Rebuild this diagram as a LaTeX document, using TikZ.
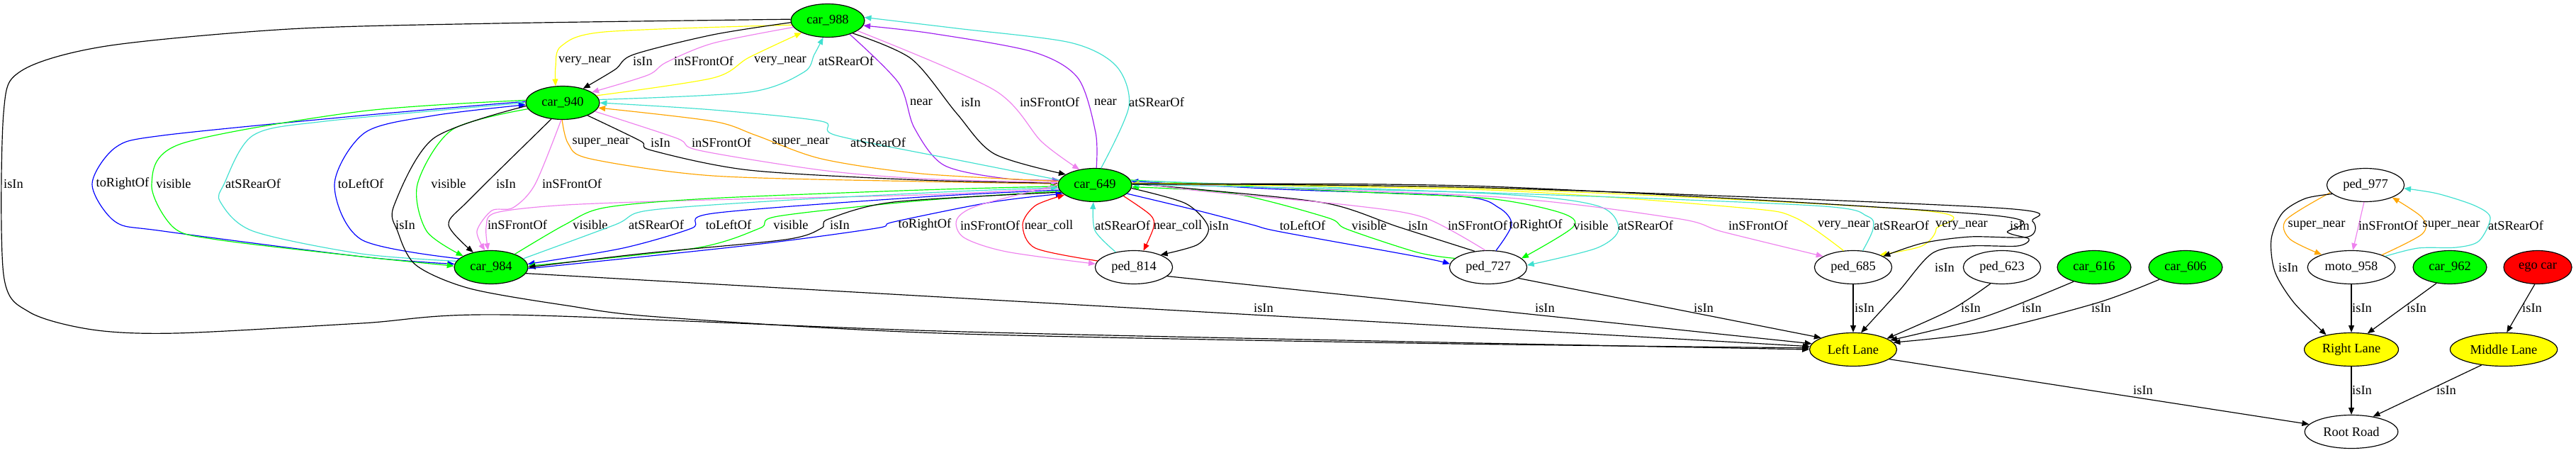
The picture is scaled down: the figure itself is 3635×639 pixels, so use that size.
\documentclass[tikz,border=0pt]{standalone}
\usepackage{fontspec}
\setmainfont{Liberation Serif}
\usepackage{xcolor}
\usetikzlibrary{arrows.meta, shapes.geometric}
\definecolor{gvgreen}{HTML}{00FF00}
\definecolor{gvyellow}{HTML}{FFFF00}
\definecolor{gvred}{HTML}{FF0000}
\definecolor{gvblue}{HTML}{0000FF}
\definecolor{gvturq}{HTML}{40E0D0}
\definecolor{gvviolet}{HTML}{EE82EE}
\definecolor{gvpurple}{HTML}{A020F0}
\definecolor{gvorange}{HTML}{FFA500}

\begin{document}
\begin{tikzpicture}[
  x=0.76pt, y=-0.76pt,
  font=\fontsize{14}{16}\selectfont,
  obj/.style={ellipse, draw, line width=0.9pt, inner sep=0pt, minimum height=35.7pt, minimum width=#1},
  obj/.default=83pt,
  car/.style={obj=79pt, fill=gvgreen},
  lane/.style={obj=#1, fill=gvyellow},
  rel/.style={->, line width=0.9pt},
  lbl/.style={inner sep=1pt, text=black},
  >={Triangle[length=7.5pt, width=6pt]}
]
\useasboundingbox (0,0) rectangle (3635,639);

\node[car] (c988) at (1168,29) {car\_988};
\node[car] (c940) at (794,145) {car\_940};
\node[car] (c649) at (1545,261) {car\_649};
\node[car] (c984) at (693,377) {car\_984};
\node[obj] (p814) at (1600,377) {ped\_814};
\node[obj] (p727) at (2100,377) {ped\_727};
\node[obj] (p685) at (2615,377) {ped\_685};
\node[obj] (p623) at (2825,377) {ped\_623};
\node[car] (c616) at (2955,377) {car\_616};
\node[car] (c606) at (3084,377) {car\_606};
\node[obj] (p977) at (3338,261) {ped\_977};
\node[obj=94pt] (m958) at (3318,377) {moto\_958};
\node[car] (c962) at (3457,377) {car\_962};
\node[obj=73pt, fill=gvred] (ego) at (3581,377) {ego car};
\node[lane=93.5pt] (lleft) at (2615,493) {Left Lane};
\node[lane=101pt] (lright) at (3318,493) {Right Lane};
\node[lane=115pt] (lmid) at (3533,493) {Middle Lane};
\node[obj=100pt] (road) at (3318,609) {Root Road};

% car_988 and car_940
\draw[rel, gvyellow] plot[smooth] coordinates {(c988.187) (853,45) (792,65) (784,94) (c940.113)} node[lbl] at (825,86) {very\_near};
\draw[rel] plot[smooth] coordinates {(c988.183) (1006,49) (894,77) (868,98) (c940.35)} node[lbl] at (907,86) {isIn};
\draw[rel, gvviolet] plot[smooth] coordinates {(c988.191) (1006,61) (940,88) (914,106) (c940.20)} node[lbl] at (993,86) {inSFrontOf};
\draw[rel, gvyellow] plot[smooth] coordinates {(c940.12) (1006,110) (1057,81) (c988.205)} node[lbl] at (1101,86) {very\_near};
\draw[rel, gvturq] plot[smooth] coordinates {(c940.5) (1057,130) (1134,102) (1149,77) (c988.255)} node[lbl] at (1194,86) {atSRearOf};

% car_988 and car_649
\draw[rel, gvpurple] plot[smooth] coordinates {(c988.328) (1268,117) (1290,180) (1332,233) (1420,252) (c649.172)} node[lbl] at (1300,144) {near};
\draw[rel] plot[smooth] coordinates {(c988.333) (1286,83) (1350,160) (1403,217) (c649.160)} node[lbl] at (1370,144) {isIn};
\draw[rel, gvviolet] plot[smooth] coordinates {(c988.341) (1403,127) (1470,200) (c649.135)} node[lbl] at (1481,144) {inSFrontOf};
\draw[rel, gvpurple] plot[smooth] coordinates {(c649.85) (1546,187) (1521,110) (1457,73) (1314,47) (c988.352)} node[lbl] at (1560,144) {near};
\draw[rel, gvturq] plot[smooth] coordinates {(c649.70) (1593,150) (1575,93) (1510,60) (1350,40) (c988.5)} node[lbl] at (1632,144) {atSRearOf};

% car_940 and car_649
\draw[rel, gvorange] plot[smooth] coordinates {(c940.268) (802,203) (833,224) (1006,248) (1300,256) (c649.178)} node[lbl] at (848,201) {super\_near};
\draw[rel] plot[smooth] coordinates {(c940.333) (904,199) (919,212) (1057,240) (1300,254) (c649.177)} node[lbl] at (932,201) {isIn};
\draw[rel, gvviolet] plot[smooth] coordinates {(c940.345) (955,195) (986,212) (1159,240) (1300,252) (c649.176)} node[lbl] at (1018,201) {inSFrontOf};
\draw[rel, gvorange] plot[smooth] coordinates {(c649.174) (1300,245) (1159,224) (1067,191) (1006,171) (c940.352)} node[lbl] at (1130,201) {super\_near};
\draw[rel, gvturq] plot[smooth] coordinates {(c649.172) (1363,228) (1180,191) (1159,171) (1006,155) (c940.0)} node[lbl] at (1239,201) {atSRearOf};

% car_940 and car_984
\draw[rel, gvblue] plot[smooth] coordinates {(c940.178) (510,163) (230,191) (163,208) (130,260) (163,313) (230,326) (510,362) (c984.175)} node[lbl] at (173,259) {toRightOf};
\draw[rel, gvgreen] plot[smooth] coordinates {(c940.176) (510,157) (255,203) (214,260) (245,321) (306,338) (510,362) (c984.178)} node[lbl] at (245,259) {visible};
\draw[rel, gvturq] plot[smooth] coordinates {(c984.170) (510,358) (357,326) (311,285) (316,260) (357,191) (459,171) (c940.180)} node[lbl] at (357,259) {atSRearOf};
\draw[rel, gvblue] plot[smooth] coordinates {(c984.165) (510,338) (472,260) (515,187) (612,163) (c940.183)} node[lbl] at (509,259) {toLeftOf};
\draw[rel, gvgreen] plot[smooth] coordinates {(c940.190) (638,183) (589,260) (602,326) (c984.158)} node[lbl] at (633,259) {visible};
\draw[rel] plot[smooth] coordinates {(c940.235) (663,281) (633,317) (c984.140)} node[lbl] at (714,259) {isIn};
\draw[rel, gvviolet] plot[smooth] coordinates {(c940.265) (755,260) (724,293) (694,297) (673,326) (c984.110)} node[lbl] at (807,259) {inSFrontOf};

% car_649 and car_984
\draw[rel, gvviolet] plot[smooth] coordinates {(c649.185) (1300,275) (1000,282) (800,289) (700,300) (686,320) (c984.100)} node[lbl] at (730,317) {inSFrontOf};
\draw[rel, gvgreen] plot[smooth] coordinates {(c984.29) (797,317) (853,293) (1000,280) (1300,268) (c649.182)} node[lbl] at (833,317) {visible};
\draw[rel, gvturq] plot[smooth] coordinates {(c984.15) (868,317) (914,297) (1100,283) (1350,270) (c649.184)} node[lbl] at (926,317) {atSRearOf};
\draw[rel, gvblue] plot[smooth] coordinates {(c649.188) (1300,278) (1006,301) (976,322) (879,350) (c984.5)} node[lbl] at (1028,317) {toLeftOf};
\draw[rel, gvgreen] plot[smooth] coordinates {(c649.190) (1300,283) (1098,305) (1072,322) (981,350) (c984.2)} node[lbl] at (1116,317) {visible};
\draw[rel] plot[smooth] coordinates {(c649.192) (1261,285) (1169,309) (1159,322) (1108,338) (904,358) (c984.0)} node[lbl] at (1185,317) {isIn};
\draw[rel, gvblue] plot[smooth] coordinates {(c984.358) (1057,346) (1236,322) (1261,313) (1400,285) (c649.195)} node[lbl] at (1305,317) {toRightOf};

% car_649 and ped_814
\draw[rel, gvviolet] plot[smooth] coordinates {(c649.180) (1380,290) (1350,310) (1360,335) (1420,355) (p814.175)} node[lbl] at (1397,318) {inSFrontOf};
\draw[rel, gvred] plot[smooth] coordinates {(p814.170) (1461,350) (1443,317) (1461,290) (c649.198)} node[lbl] at (1480,318) {near\_coll};
\draw[rel, gvturq] plot[smooth] coordinates {(p814.140) (1545,325) (c649.265)} node[lbl] at (1584,318) {atSRearOf};
\draw[rel, gvred] plot[smooth] coordinates {(c649.339) (1623,303) (1628,320) (p814.60)} node[lbl] at (1662,318) {near\_coll};
\draw[rel] plot[smooth] coordinates {(c649.355) (1673,287) (1705,320) (1690,345) (p814.25)} node[lbl] at (1720,318) {isIn};

% car_649 and ped_727
\draw[rel, gvblue] plot[smooth] coordinates {(c649.345) (1690,297) (1767,317) (1807,327) (2000,362) (p727.175)} node[lbl] at (1838,318) {toLeftOf};
\draw[rel, gvgreen] plot[smooth] coordinates {(p727.165) (2000,356) (1900,323) (1873,307) (1740,273) (c649.357)} node[lbl] at (1932,318) {visible};
\draw[rel] plot[smooth] coordinates {(p727.130) (1973,320) (1873,287) (1700,268) (c649.2)} node[lbl] at (2001,318) {isIn};
\draw[rel, gvviolet] plot[smooth] coordinates {(p727.100) (2010,307) (1909,290) (1700,270) (c649.4)} node[lbl] at (2085,318) {inSFrontOf};
\draw[rel, gvblue] plot[smooth] coordinates {(p727.65) (2133,317) (2115,293) (2061,277) (1807,267) (c649.6)} node[lbl] at (2167,318) {toRightOf};
\draw[rel, gvgreen] plot[smooth] coordinates {(c649.8) (1900,270) (2100,280) (2202,300) (2220,320) (p727.15)} node[lbl] at (2245,318) {visible};
\draw[rel, gvturq] plot[smooth] coordinates {(c649.7) (2100,273) (2253,290) (2284,323) (2253,350) (p727.3)} node[lbl] at (2322,318) {atSRearOf};

% car_649 and ped_685
\draw[rel, gvviolet] plot[smooth] coordinates {(c649.3) (2100,277) (2365,308) (2431,327) (p685.160)} node[lbl] at (2481,318) {inSFrontOf};
\draw[rel, gvyellow] plot[smooth] coordinates {(p685.120) (2533,307) (2457,293) (2100,268) (c649.2)} node[lbl] at (2602,318) {very\_near};
\draw[rel, gvturq] plot[smooth] coordinates {(p685.60) (2643,323) (2635,305) (2559,290) (2100,272) (c649.1)} node[lbl] at (2683,318) {atSRearOf};
\draw[rel, gvyellow] plot[smooth] coordinates {(c649.3) (2100,266) (2712,297) (2732,323) (2712,347) (p685.25)} node[lbl] at (2768,318) {very\_near};
\draw[rel] plot[smooth] coordinates {(c649.2) (2100,265) (2814,293) (2868,312) (2862,334) (2780,334) (2713,343) (p685.20)} node[lbl] at (2850,318) {isIn};
\draw[rel] plot[smooth] coordinates {(c649.1) (2100,263) (2804,303) (2833,328) (2863,337) (2847,347) (2780,347) (2727,357) (2680,410) (lleft.65)} node[lbl] at (2744,377) {isIn};

% into Left Lane
\draw[rel] plot[smooth] coordinates {(c988.178) (700,33) (408,41) (150,65) (30,100) (5,160) (5,387) (41,440) (130,465) (249,470) (510,456) (714,444) (1326,467) (1990,482) (lleft.180)} node[lbl] at (19,259) {isIn};
\draw[rel] plot[smooth] coordinates {(c940.185) (612,195) (556,290) (561,326) (587,374) (663,407) (800,431) (928,447) (1326,470) (1990,484) (lleft.178)} node[lbl] at (572,317) {isIn};
\draw[rel] (c984.350) -- (lleft.176) node[lbl] at (1783,434) {isIn};
\draw[rel] (p814.345) -- (lleft.172) node[lbl] at (2180,434) {isIn};
\draw[rel] (p727.340) -- (lleft.160) node[lbl] at (2404,434) {isIn};
\draw[rel] (p685.south) -- (lleft.north) node[lbl] at (2631,434) {isIn};
\draw[rel] plot[smooth] coordinates {(p623.235) (2753,437) (lleft.18)} node[lbl] at (2781,434) {isIn};
\draw[rel] plot[smooth] coordinates {(c616.215) (2800,447) (lleft.14)} node[lbl] at (2867,434) {isIn};
\draw[rel] plot[smooth] coordinates {(c606.205) (2960,427) (2800,468) (lleft.10)} node[lbl] at (2965,434) {isIn};
\draw[rel] (lleft.345) -- (road.170) node[lbl] at (3024,550) {isIn};

% right group
\draw[rel, gvorange] plot[smooth] coordinates {(p977.192) (3226,310) (3231,337) (m958.157)} node[lbl] at (3269,318) {super\_near};
\draw[rel, gvviolet] (p977.265) -- (m958.85) node[lbl] at (3370,318) {inSFrontOf};
\draw[rel, gvorange] plot[smooth] coordinates {(m958.22) (3418,330) (3418,307) (p977.335)} node[lbl] at (3459,318) {super\_near};
\draw[rel, gvturq] plot[smooth] coordinates {(m958.18) (3412,350) (3466,349) (3498,340) (3514,307) (3492,290) (3439,273) (p977.355)} node[lbl] at (3550,318) {atSRearOf};
\draw[rel] plot[smooth] coordinates {(p977.195) (3253,280) (3221,300) (3205,337) (3210,383) (3237,427) (lright.150)} node[lbl] at (3229,377) {isIn};
\draw[rel] (m958) -- (lright) node[lbl] at (3333,434) {isIn};
\draw[rel] (c962.230) -- (lright.45) node[lbl] at (3410,434) {isIn};
\draw[rel] (ego.260) -- (lmid.80) node[lbl] at (3573,434) {isIn};
\draw[rel] (lright) -- (road) node[lbl] at (3333,550) {isIn};
\draw[rel] (lmid.215) -- (road.35) node[lbl] at (3452,550) {isIn};
\end{tikzpicture}
\end{document}
